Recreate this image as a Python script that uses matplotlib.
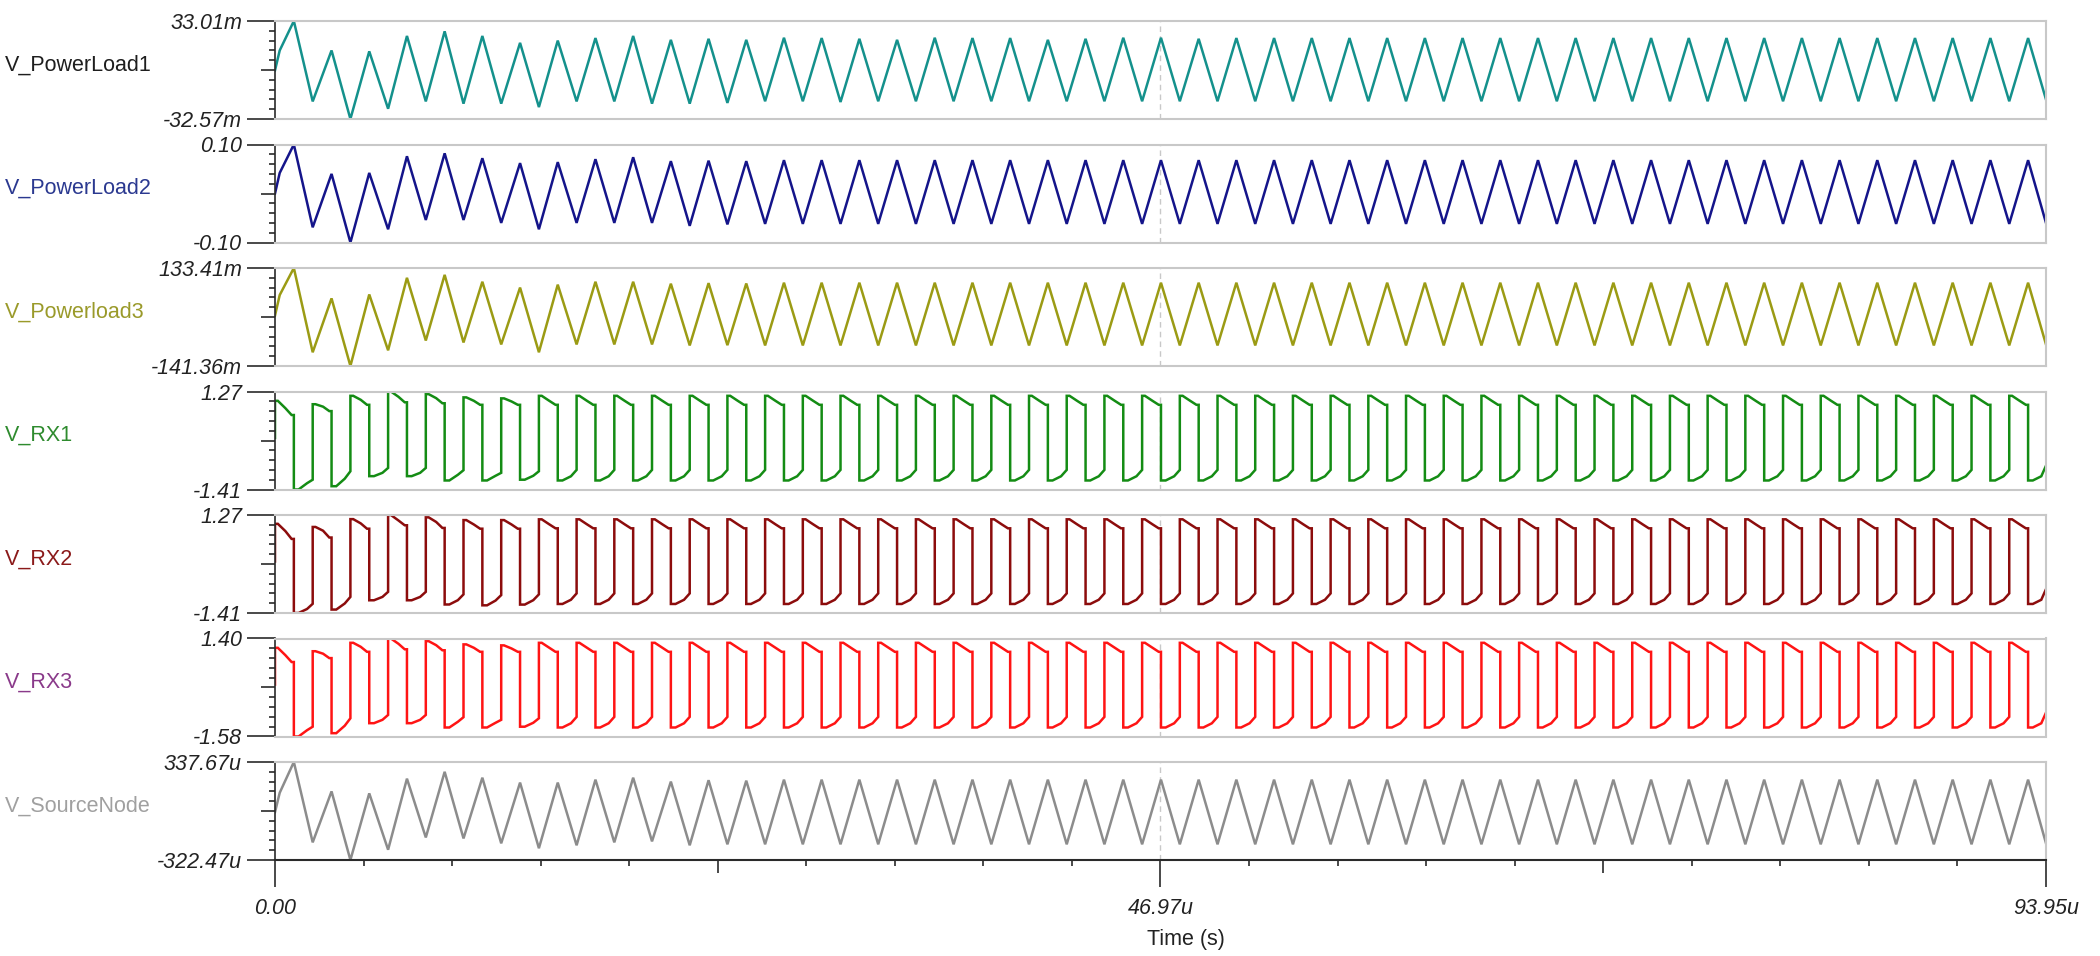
import matplotlib
matplotlib.use('Agg')
import matplotlib.pyplot as plt
import numpy as np

plt.rcParams['font.family'] = ['Liberation Sans', 'DejaVu Sans']

# ---------------- data ----------------
T_END = 93.95                         # us
x_major_ticks = [0.0, 46.97, 93.95]
x_tick_labels = ['0.00', '46.97u', '93.95u']
cursor_t = 46.97

series_names = ['V_PowerLoad1', 'V_PowerLoad2', 'V_Powerload3',
                'V_RX1', 'V_RX2', 'V_RX3', 'V_SourceNode']
y_tick_labels = [('-32.57m', '33.01m'), ('-0.10', '0.10'), ('-141.36m', '133.41m'),
                 ('-1.41', '1.27'), ('-1.41', '1.27'), ('-1.58', '1.40'),
                 ('-322.47u', '337.67u')]

# triangle waveforms: vertex times (us) and vertex values
tri_times = [0.0, 0.25] + list(range(1, 94)) + [93.95]

v_powerload1 = ([0.0, 13.3,
                 33.01, -20.8, 13.3, -32.57, 12.7, -25.7, 23.0, -20.8, 26.1, -22.3,
                 23.0, -22.3, 18.4, -24.6, 19.9, -20.8, 21.6, -20.8, 23.0, -22.3,
                 20.4, -22.3, 21.1, -21.8, 20.4, -20.7, 21.8, -20.7, 21.6, -21.2,
                 21.1, -20.7, 20.4, -20.7, 21.8, -20.7, 21.6, -20.7, 21.6, -20.7,
                 20.4, -20.7, 21.1, -20.7, 21.8, -20.7, 21.8, -20.7, 21.1, -20.7,
                 21.6, -20.7, 21.6, -20.7, 21.6, -20.7, 21.6, -20.7]
                + [21.6, -20.7] * 17 + [21.6] + [-19.5])            # mV

v_powerload2 = ([0.0, 0.042,
                 0.100, -0.069, 0.040, -0.100, 0.042, -0.073, 0.076, -0.054, 0.082, -0.054,
                 0.072, -0.060, 0.062, -0.073, 0.064, -0.060, 0.070, -0.060, 0.074, -0.060,
                 0.066, -0.066, 0.067, -0.063, 0.066, -0.062, 0.068, -0.062, 0.068, -0.062]
                + [0.068, -0.062] * 31 + [0.068] + [-0.060])        # V

v_powerload3 = ([0.0, 57.6,
                 133.41, -102.9, 48.2, -141.36, 59.2, -97.4, 105.9, -69.9, 114.2, -75.4,
                 94.9, -80.9, 78.5, -102.9, 86.7, -80.9, 94.9, -80.9, 94.9, -80.9,
                 89.4, -83.7, 91.0, -83.0, 90.0, -83.7, 92.2, -83.7, 92.2, -83.7]
                + [92.2, -83.7] * 31 + [92.2] + [-81.0])            # mV

v_sourcenode = ([0.0, 130.4,
                 337.67, -203.6, 139.6, -322.47, 126.4, -253.2, 225.4, -170.6, 271.7, -177.2,
                 232.0, -210.2, 199.0, -243.3, 199.0, -223.4, 218.8, -203.6, 232.0, -197.0,
                 205.6, -223.4, 215.0, -216.8, 212.0, -216.8, 218.8, -216.8, 218.8, -216.8]
                + [218.8, -216.8] * 31 + [218.8] + [-210.0])         # uV

# square-like waveforms: per cycle levels (start / mid / end) of high and low half periods
rx1_hi_start = [1.015, 0.922, 1.152, 1.27, 1.198, 1.109, 1.082] + [1.152] * 40
rx1_hi_mid   = [0.814, 0.855, 1.042, 1.125, 1.088, 1.015, 0.997] + [1.015] * 40
rx1_hi_end   = [0.627, 0.734, 0.906, 0.975, 0.948, 0.906, 0.906] + [0.906] * 40
rx1_lo_start = [-1.41, -1.32, -1.045, -1.045, -1.163, -1.163, -1.142] + [-1.163] * 40
rx1_lo_mid   = [-1.238, -1.115, -0.954, -0.954, -1.008, -1.035, -1.035] + [-1.048] * 40
rx1_lo_end   = [-1.142, -0.911, -0.82, -0.82, -0.882, -0.954, -0.911] + [-0.874] * 39 + [-0.70]

rx2_hi_start = [1.029, 0.943, 1.157, 1.27, 1.206, 1.131, 1.131] + [1.152] * 40
rx2_hi_mid   = [0.83, 0.84, 1.04, 1.12, 1.08, 1.01, 1.01] + [1.015] * 40
rx2_hi_end   = [0.616, 0.654, 0.895, 0.989, 0.916, 0.895, 0.895] + [0.906] * 40
rx2_lo_start = [-1.41, -1.316, -1.062, -1.062, -1.177, -1.20, -1.18] + [-1.163] * 40
rx2_lo_mid   = [-1.30, -1.15, -0.97, -0.97, -1.06, -1.07, -1.06] + [-1.048] * 40
rx2_lo_end   = [-1.158, -0.97, -0.831, -0.831, -0.901, -0.92, -0.90] + [-0.874] * 39 + [-0.70]

rx3_hi_start = [1.117, 1.013, 1.269, 1.40, 1.32, 1.221, 1.191] + [1.269] * 40
rx3_hi_mid   = [0.893, 0.938, 1.147, 1.239, 1.197, 1.117, 1.096] + [1.117] * 40
rx3_hi_end   = [0.685, 0.804, 0.995, 1.072, 1.042, 0.995, 0.995] + [0.995] * 40
rx3_lo_start = [-1.58, -1.479, -1.175, -1.175, -1.306, -1.306, -1.282] + [-1.306] * 40
rx3_lo_mid   = [-1.389, -1.252, -1.073, -1.073, -1.133, -1.163, -1.163] + [-1.178] * 40
rx3_lo_end   = [-1.282, -1.026, -0.924, -0.924, -0.993, -1.073, -1.026] + [-0.984] * 39 + [-0.79]

line_colors  = ['#14918c', '#14148a', '#9b9b14', '#148c14', '#8c0c0c', '#ff1414', '#8c8c8c']
label_colors = ['#1e1e1e', '#2b3990', '#9a9a2a', '#2e8b2e', '#8b1a1a', '#8a3a8a', '#a0a0a0']

# ---------------- helpers ----------------
HI_FRAC = [0.0, 0.15, 0.55, 0.88, 1.0]
LO_FRAC = [0.0, 0.25, 0.7, 1.0]


def square_trace(hs, hm, he, ls, lm, le):
    t = [0.0]
    v = [0.0]
    for k in range(len(hs)):
        j = 2 * k
        t += [j + f for f in HI_FRAC]
        v += [hs[k], hs[k], hm[k], he[k], he[k]]
        j = 2 * k + 1
        t += [j + f for f in LO_FRAC]
        v += [ls[k], ls[k], lm[k], le[k]]
    return t, v


traces = [
    (tri_times, v_powerload1),
    (tri_times, v_powerload2),
    (tri_times, v_powerload3),
    square_trace(rx1_hi_start, rx1_hi_mid, rx1_hi_end, rx1_lo_start, rx1_lo_mid, rx1_lo_end),
    square_trace(rx2_hi_start, rx2_hi_mid, rx2_hi_end, rx2_lo_start, rx2_lo_mid, rx2_lo_end),
    square_trace(rx3_hi_start, rx3_hi_mid, rx3_hi_end, rx3_lo_start, rx3_lo_mid, rx3_lo_end),
    (tri_times, v_sourcenode),
]

# ---------------- layout ----------------
W, H = 2100, 956
DPI = 100
fig = plt.figure(figsize=(W / DPI, H / DPI), dpi=DPI)
fig.patch.set_facecolor('white')

LEFT, RIGHT = 275, 2046
TOP0, PITCH, PH = 21, 123.5, 98
FS = 15.5
PX = 72.0 / DPI          # points per pixel
GRAY = '#c8c8c8'
DARK = '#2a2a2a'
AXW = RIGHT - LEFT

axes = []
for i, (name, (tt, vv)) in enumerate(zip(series_names, traces)):
    top = TOP0 + PITCH * i
    ax = fig.add_axes([LEFT / W, 1 - (top + PH) / H, AXW / W, PH / H])
    axes.append(ax)
    ax.plot(tt, vv, color=line_colors[i], lw=1.8, solid_joinstyle='miter')
    vmin, vmax = min(vv), max(vv)
    ax.set_ylim(vmin, vmax)
    ax.set_xlim(0, T_END)
    ax.axvline(cursor_t, color=GRAY, lw=1.0, ls=(0, (4, 3)), zorder=0)

    for s in ['top', 'right', 'bottom']:
        ax.spines[s].set_color(GRAY)
        ax.spines[s].set_linewidth(1.5)
    ax.spines['left'].set_color(DARK)
    ax.spines['left'].set_linewidth(1.2)

    # y ticks
    ax.set_yticks([vmin, vmax])
    ax.set_yticklabels(list(y_tick_labels[i]), fontstyle='italic', fontsize=FS, color='#222222')
    span = vmax - vmin
    ax.set_yticks([vmin + span * k / 10 for k in range(1, 10) if k != 5], minor=True)
    ax.tick_params(axis='y', which='major', direction='out', length=28 * PX, width=1.2,
                   color=DARK, pad=5 * PX)
    ax.tick_params(axis='y', which='minor', direction='out', length=5.7 * PX, width=1.2,
                   color=DARK)
    mid = vmin + span / 2
    ax.plot([-14 / AXW, 0], [mid, mid], transform=ax.get_yaxis_transform(),
            color=DARK, lw=1.2, clip_on=False, solid_capstyle='butt')

    ax.set_xticks([])
    ax.tick_params(axis='x', which='both', bottom=False)

    fig.text(4.5 / W, 1 - (top + PH / 2 - 5) / H, name, color=label_colors[i],
             fontsize=FS, ha='left', va='center')

# bottom time axis
axb = axes[-1]
axb.spines['bottom'].set_color(DARK)
axb.spines['bottom'].set_linewidth(1.5)
axb.set_xticks(x_major_ticks)
axb.set_xticklabels(x_tick_labels, fontstyle='italic', fontsize=FS, color='#222222')
n_div = 20
minor_x = [T_END * k / n_div for k in range(n_div + 1) if k % 5 != 0]
axb.set_xticks(minor_x, minor=True)
axb.tick_params(axis='x', which='major', bottom=True, direction='out', length=27 * PX,
                width=1.2, color=DARK, pad=11 * PX)
axb.tick_params(axis='x', which='minor', bottom=True, direction='out', length=5.7 * PX,
                width=1.2, color=DARK)
for k in (5, 15):
    xq = T_END * k / n_div
    axb.plot([xq, xq], [0, -13 / PH], transform=axb.get_xaxis_transform(),
             color=DARK, lw=1.2, clip_on=False, solid_capstyle='butt')

fig.text(1147 / W, 1 - 939 / H, 'Time (s)', fontsize=FS, ha='left', va='center', color='#222222')

fig.savefig('out.png', dpi=DPI, facecolor='white')
